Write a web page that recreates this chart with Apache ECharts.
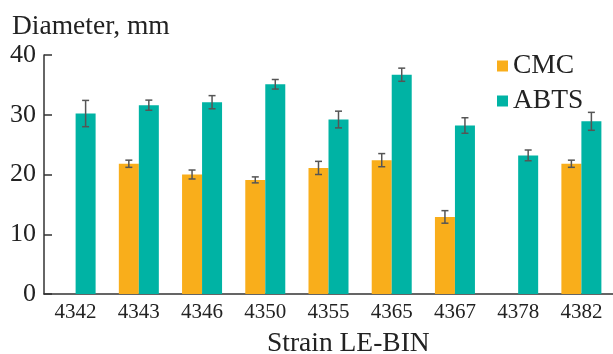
<!DOCTYPE html>
<html>
<head>
<meta charset="utf-8">
<script src="https://cdn.jsdelivr.net/npm/echarts@6/dist/echarts.min.js"></script>
<style>
  html, body { margin: 0; padding: 0; background: #fff; }
  #chart { width: 613px; height: 354px; }
</style>
</head>
<body>
<div id="chart"></div>
<script>
const strains = ['4342', '4343', '4346', '4350', '4355', '4365', '4367', '4378', '4382'];
const cmcValues = [null, 21.8, 20.0, 19.1, 21.1, 22.4, 12.9, null, 21.8];
const cmcErrors = [null, 0.6, 0.75, 0.5, 1.1, 1.1, 1.05, null, 0.6];
const abtsValues = [30.2, 31.6, 32.1, 35.1, 29.2, 36.7, 28.2, 23.2, 28.9];
const abtsErrors = [2.2, 0.85, 1.1, 0.8, 1.4, 1.1, 1.3, 0.9, 1.5];
const yTicks = [0, 10, 20, 30, 40];

const font = '"Liberation Serif", "DejaVu Serif", serif';
const textColor = '#222';

function errData(values, errors) {
  return values.map((v, i) => v == null ? [i, null, null] : [i, v - errors[i], v + errors[i]]);
}

function errSeries(values, errors, offset) {
  return {
    type: 'custom',
    z: 10,
    data: errData(values, errors),
    renderItem: function (params, api) {
      if (api.value(1) == null || isNaN(api.value(1))) return;
      const lo = api.coord([api.value(0), api.value(1)]);
      const hi = api.coord([api.value(0), api.value(2)]);
      const x = lo[0] + offset;
      const cap = 3.5;
      const style = { stroke: '#555', lineWidth: 1.5 };
      return {
        type: 'group',
        children: [
          { type: 'line', shape: { x1: x, y1: lo[1], x2: x, y2: hi[1] }, style },
          { type: 'line', shape: { x1: x - cap, y1: lo[1], x2: x + cap, y2: lo[1] }, style },
          { type: 'line', shape: { x1: x - cap, y1: hi[1], x2: x + cap, y2: hi[1] }, style }
        ]
      };
    }
  };
}

const chart = echarts.init(document.getElementById('chart'));

const option = {
  animation: false,
  textStyle: { fontFamily: font, color: textColor },
  title: [
    { text: 'Diameter, mm', left: 7, top: 8,
      textStyle: { fontFamily: font, fontSize: 27.5, fontWeight: 'normal', color: textColor } },
    { text: 'Strain LE-BIN', left: 262, top: 325,
      textStyle: { fontFamily: font, fontSize: 27.5, fontWeight: 'normal', color: textColor } }
  ],
  legend: {
    orient: 'vertical',
    left: 492,
    top: 47,
    itemWidth: 11,
    itemHeight: 11,
    itemGap: 7,
    icon: 'rect',
    textStyle: { fontFamily: font, fontSize: 27.5, color: textColor },
    data: ['CMC', 'ABTS']
  },
  grid: { left: 44, top: 55, bottom: 60, right: -6, containLabel: false },
  xAxis: {
    type: 'category',
    data: strains,
    axisTick: { show: false },
    axisLine: { lineStyle: { color: '#333', width: 1.5 } },
    axisLabel: { fontFamily: font, fontSize: 21, color: textColor, margin: 8 }
  },
  yAxis: {
    type: 'value',
    min: yTicks[0],
    max: yTicks[yTicks.length - 1],
    interval: 10,
    splitLine: { show: false },
    axisLine: { show: true, lineStyle: { color: '#333', width: 1.5 } },
    axisTick: { show: true, inside: true, length: 8, lineStyle: { color: '#333', width: 1.5 } },
    axisLabel: { fontFamily: font, fontSize: 26, color: textColor, margin: 8 }
  },
  series: [
    {
      name: 'CMC', type: 'bar', data: cmcValues, barWidth: 20, barGap: '0%',
      itemStyle: { color: '#F9AE1B' }
    },
    {
      name: 'ABTS', type: 'bar', data: abtsValues, barWidth: 20, barGap: '0%',
      itemStyle: { color: '#00B3A4' }
    },
    errSeries(cmcValues, cmcErrors, -10),
    errSeries(abtsValues, abtsErrors, 10)
  ]
};

chart.setOption(option);
</script>
</body>
</html>
